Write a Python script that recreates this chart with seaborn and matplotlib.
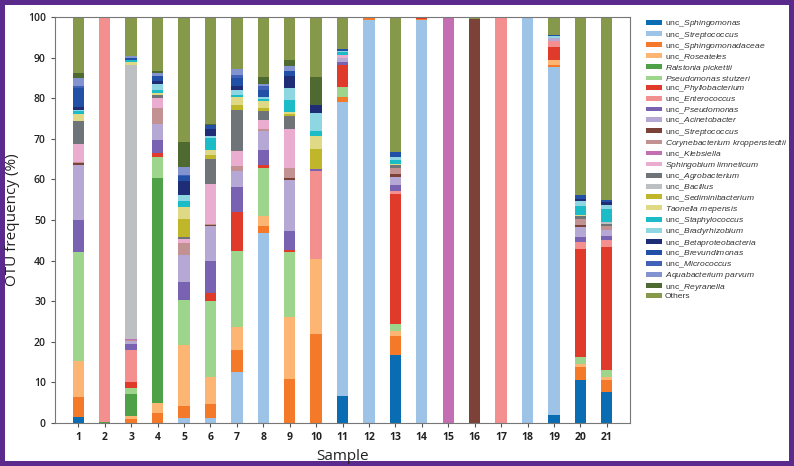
import numpy as np
import pandas as pd
import matplotlib
matplotlib.use("Agg")
import matplotlib.pyplot as plt
import seaborn as sns
from matplotlib.patches import Patch

samples = list(range(1, 21 + 1))

taxa_labels = [
    "unc_$\\mathit{Sphingomonas}$",
    "unc_$\\mathit{Streptococcus}$",
    "unc_$\\mathit{Sphingomonadaceae}$",
    "unc_$\\mathit{Roseateles}$",
    "$\\mathit{Ralstonia\\ pickettii}$",
    "$\\mathit{Pseudomonas\\ stutzeri}$",
    "unc_$\\mathit{Phyllobacterium}$",
    "unc_$\\mathit{Enterococcus}$",
    "unc_$\\mathit{Pseudomonas}$",
    "unc_$\\mathit{Acinetobacter}$",
    "unc_$\\mathit{Streptococcus}$",
    "$\\mathit{Corynebacterium\\ kroppenstedtii}$",
    "unc_$\\mathit{Klebsiella}$",
    "$\\mathit{Sphingobium\\ limneticum}$",
    "unc_$\\mathit{Agrobacterium}$",
    "unc_$\\mathit{Bacillus}$",
    "unc_$\\mathit{Sediminibacterium}$",
    "$\\mathit{Taonella\\ mepensis}$",
    "unc_$\\mathit{Staphylococcus}$",
    "unc_$\\mathit{Bradyrhizobium}$",
    "unc_$\\mathit{Betaproteobacteria}$",
    "unc_$\\mathit{Brevundimonas}$",
    "unc_$\\mathit{Micrococcus}$",
    "$\\mathit{Aquabacterium\\ parvum}$",
    "unc_$\\mathit{Reyranella}$",
    "Others",
]

taxa_colors = [
    "#0a6db3", "#9dc3e6", "#f47a2a", "#fdb574", "#4ea146", "#9dd58c",
    "#e03a2a", "#f48f8f", "#7a62b2", "#b6a8d4", "#7c4238", "#c29292",
    "#c46fb4", "#eaadcf", "#6f7478", "#bcc0c3", "#bfb62a", "#dfd986",
    "#1bbcc8", "#8ed6e2", "#1f2d77", "#2250a7", "#3f62b8", "#8293d0",
    "#4f6a30", "#86994a",
]

sphingomonas = [1.5, 0, 0, 0, 0, 0, 0, 0, 0, 0, 6.6, 0, 16.7, 0, 0, 0, 0, 0, 1.9, 10.7, 7.6]
streptococcus = [0, 0, 0, 0, 1.3, 1.3, 12.6, 46.8, 0, 0, 72.5, 99.2, 0, 99.3, 0, 0, 0, 99.8, 85.7, 0, 0]
sphingomonadaceae = [4.9, 0, 1.0, 2.4, 3.0, 3.3, 5.3, 1.6, 10.8, 21.9, 1.1, 0.5, 4.7, 0.3, 0, 0, 0, 0, 0.6, 3.1, 3.0]
roseateles = [8.9, 0, 0.6, 2.6, 14.9, 6.7, 5.7, 2.5, 15.2, 18.6, 0, 0, 1.2, 0, 0, 0, 0, 0, 1.1, 0.8, 0.8]
ralstonia = [0, 0.3, 5.5, 55.3, 0, 0, 0, 0, 0, 0, 0, 0, 0, 0, 0, 0, 0, 0, 0, 0, 0]
stutzeri = [26.7, 0, 1.4, 5.2, 11.1, 18.7, 18.7, 11.9, 16.2, 0, 2.6, 0, 1.7, 0, 0, 0, 0, 0, 0, 1.6, 1.6]
phyllobacterium = [0, 0, 1.5, 1.0, 0, 2.0, 9.6, 0.7, 0.4, 0, 5.3, 0.3, 32.0, 0.4, 0, 0, 0, 0, 3.2, 26.7, 30.4]
enterococcus = [0, 99.7, 8.0, 0, 0, 0, 0, 0, 0, 21.6, 0, 0, 0.8, 0, 0, 0, 100, 0, 1.5, 1.6, 1.6]
pseudomonas = [8.0, 0, 1.4, 3.3, 4.5, 8.0, 6.3, 3.7, 4.7, 0.4, 0.8, 0, 1.4, 0, 0, 0, 0, 0, 0, 1.2, 1.1]
acinetobacter = [13.5, 0, 0.7, 3.8, 6.6, 8.4, 3.9, 4.6, 12.6, 0, 1.0, 0, 2.2, 0, 0, 0, 0, 0, 0.8, 2.5, 1.5]
streptococcus_b = [0.5, 0, 0, 0, 0, 0.4, 0, 0, 0.4, 0, 0, 0, 0.7, 0, 0, 99.6, 0, 0, 0, 0.6, 0]
corynebacterium = [0.3, 0, 0.3, 3.9, 2.9, 0.3, 1.2, 0.6, 2.5, 0, 0, 0, 1.5, 0, 0, 0, 0, 0, 0, 1.5, 1.0]
klebsiella = [0, 0, 0.4, 0, 0, 0, 0, 0, 0, 0, 0, 0, 0, 0, 100, 0, 0, 0, 0, 0, 0]
sphingobium = [4.5, 0, 0, 2.5, 1.0, 9.7, 3.7, 2.2, 9.7, 0, 0.8, 0, 0, 0, 0, 0, 0, 0, 0, 0, 0]
agrobacterium = [5.6, 0, 0, 0.8, 0.6, 6.3, 10.2, 2.3, 3.2, 0, 0, 0, 0.6, 0, 0, 0, 0, 0, 0, 0.6, 0.5]
bacillus = [0, 0, 67.5, 0, 0, 0, 0, 0, 0, 0, 0, 0, 0, 0, 0, 0, 0, 0, 0, 0, 0.5]
sediminibacterium = [0, 0, 0, 0, 4.3, 1.0, 1.1, 0.8, 0.5, 4.9, 0, 0, 0, 0, 0, 0, 0, 0, 0, 0, 0]
taonella = [1.7, 0, 0.6, 0.6, 3.0, 1.2, 2.0, 1.6, 0.4, 3.3, 0, 0, 0.4, 0, 0, 0, 0, 0, 0, 0.4, 0]
staphylococcus = [0.8, 0, 0.4, 0.7, 1.6, 2.9, 0.6, 0.6, 2.9, 1.3, 0.6, 0, 0.8, 0, 0, 0, 0, 0, 0, 2.1, 3.0]
bradyrhizobium = [0.3, 0, 0, 1.5, 1.4, 0.4, 1.1, 0.3, 3.0, 4.3, 0.3, 0, 0.8, 0, 0, 0, 0, 0, 0.4, 1.2, 1.2]
betaproteobacteria = [0.7, 0, 0, 0.6, 3.4, 1.9, 1.1, 0, 2.9, 2.0, 0, 0, 0, 0, 0, 0, 0, 0, 0, 0.6, 0.6]
brevundimonas = [4.6, 0, 0.5, 1.2, 1.2, 0.8, 1.9, 1.9, 1.4, 0, 0.6, 0, 1.2, 0, 0, 0, 0, 0, 0.3, 1.0, 0.6]
micrococcus = [0.6, 0, 0, 0, 0.4, 0, 0.8, 0.8, 0, 0, 0, 0, 0, 0, 0, 0, 0, 0, 0, 0, 0]
aquabacterium = [1.8, 0, 0.5, 0.8, 1.8, 0, 1.4, 0.7, 1.2, 0, 0, 0, 0, 0, 0, 0, 0, 0, 0, 0, 0]
reyranella = [1.3, 0, 0, 0.6, 6.2, 0.4, 0, 1.6, 1.5, 7.0, 0, 0, 0, 0, 0, 0, 0, 0, 0, 0, 0]
others = [13.8, 0, 9.7, 13.2, 30.8, 26.3, 12.8, 14.8, 10.5, 14.7, 7.8, 0, 33.3, 0, 0, 0.4, 0, 0.2, 4.5, 43.8, 45.0]

series = [sphingomonas, streptococcus, sphingomonadaceae, roseateles, ralstonia,
          stutzeri, phyllobacterium, enterococcus, pseudomonas, acinetobacter,
          streptococcus_b, corynebacterium, klebsiella, sphingobium, agrobacterium,
          bacillus, sediminibacterium, taonella, staphylococcus, bradyrhizobium,
          betaproteobacteria, brevundimonas, micrococcus, aquabacterium,
          reyranella, others]

# long table, unique key per taxon (two "unc_Streptococcus" entries)
keys = ["t%02d" % i for i in range(len(series))]
rows = []
for k, vals in zip(keys, series):
    for s, v in zip(samples, vals):
        rows.append((s, k, v))
df = pd.DataFrame(rows, columns=["Sample", "taxon", "freq"])

sns.set_style("ticks")
plt.rcParams["font.family"] = ["Open Sans", "DejaVu Sans"]
plt.rcParams["mathtext.fontset"] = "custom"
plt.rcParams["mathtext.rm"] = "Liberation Sans"
plt.rcParams["mathtext.it"] = "Liberation Sans:italic"

fig = plt.figure(figsize=(7.94, 4.66), dpi=100)
fig.patch.set_edgecolor("#5a2a8c")
fig.patch.set_linewidth(6)
ax = fig.add_axes([0.0693, 0.0923, 0.7242, 0.8712])

# seaborn stacks the first hue level on top, so reverse the order
sns.histplot(data=df, x="Sample", weights="freq", hue="taxon",
             hue_order=keys[::-1], palette=dict(zip(keys, taxa_colors)),
             multiple="stack", discrete=True, shrink=0.43,
             edgecolor="none", linewidth=0, alpha=1, legend=False, ax=ax)

ax.set_xlim(0.12, 21.88)
ax.set_ylim(0, 100)
ax.set_xticks(samples)
ax.set_xticklabels([str(s) for s in samples], fontweight="bold", fontsize=7.5)
ax.set_yticks(range(0, 101, 10))
ax.set_yticklabels([str(v) for v in range(0, 101, 10)], fontweight="semibold", fontsize=7.5)
ax.tick_params(length=3, width=0.8, colors="#555555", labelcolor="#222222")
for sp in ax.spines.values():
    sp.set_color("#777777")
    sp.set_linewidth(0.8)
ax.set_xlabel("Sample", fontsize=11, color="#222222")
ax.set_ylabel("OTU frequency (%)", fontsize=11, color="#222222", labelpad=6)

handles = [Patch(facecolor=c, edgecolor="none") for c in taxa_colors]
leg = fig.legend(handles, taxa_labels, loc="upper left",
                 bbox_to_anchor=(0.809, 0.968), frameon=False,
                 prop={"family": "Liberation Sans", "size": 6.1},
                 handlelength=1.9, handleheight=0.5, handletextpad=0.35,
                 labelspacing=0.03, borderaxespad=0)
for t in leg.get_texts():
    t.set_color("#333333")

plt.savefig("out.png", dpi=100)
